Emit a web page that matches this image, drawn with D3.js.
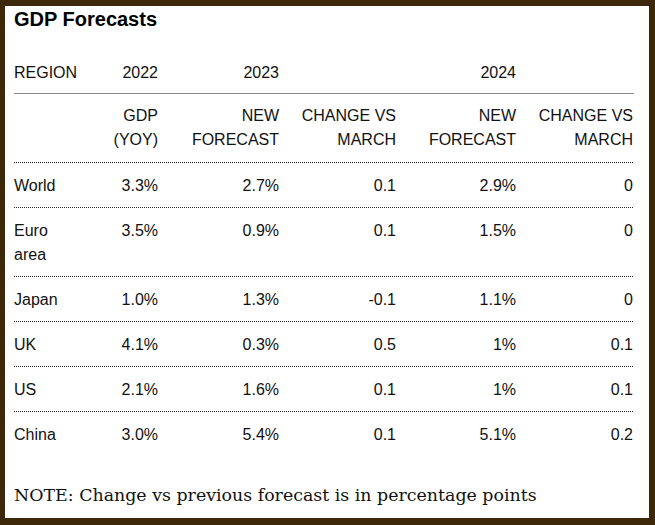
<!DOCTYPE html>
<html>
<head>
<meta charset="utf-8">
<script src="https://cdn.jsdelivr.net/npm/d3@7.9.0/dist/d3.min.js"></script>
<style>
  html, body { margin: 0; padding: 0; background: #3c2809; }
  svg { display: block; }
  .cell { font-family: "Liberation Sans", Arial, sans-serif; font-size: 16px; fill: #111; }
</style>
</head>
<body>
<div id="chart"></div>
<script>
const title = 'GDP Forecasts';
const note = 'NOTE: Change vs previous forecast is in percentage points';

const columns = ['region', 'gdp2022', 'forecast2023', 'change2023', 'forecast2024', 'change2024'];
const yearLabels = ['REGION', '2022', '2023', '', '2024', ''];
const subLabels = [[], ['GDP', '(YOY)'], ['NEW', 'FORECAST'], ['CHANGE VS', 'MARCH'], ['NEW', 'FORECAST'], ['CHANGE VS', 'MARCH']];

const regions = [['World'], ['Euro', 'area'], ['Japan'], ['UK'], ['US'], ['China']];
const gdp2022 = [3.3, 3.5, 1.0, 4.1, 2.1, 3.0];
const forecast2023 = [2.7, 0.9, 1.3, 0.3, 1.6, 5.4];
const change2023 = [0.1, 0.1, -0.1, 0.5, 0.1, 0.1];
const forecast2024 = [2.9, 1.5, 1.1, 1, 1, 5.1];
const change2024 = [0, 0, 0, 0.1, 0.1, 0.2];

const width = 655, height = 525;
const left = 14, right = 634;
const lineH = 24;

const fmt = {
  region: d => d,
  gdp2022: d => [d.toFixed(1) + '%'],
  forecast2023: d => [d.toFixed(1) + '%'],
  change2023: d => [String(d)],
  forecast2024: d => [String(d) + '%'],
  change2024: d => [String(d)]
};

const rows = regions.map((r, i) => ({
  region: r,
  gdp2022: gdp2022[i],
  forecast2023: forecast2023[i],
  change2023: change2023[i],
  forecast2024: forecast2024[i],
  change2024: change2024[i]
}));

// right edge of every column (region is left aligned)
const colX = d3.scaleOrdinal()
  .domain(columns)
  .range([left, 158, 279, 396, 516, 633]);
const anchor = c => c === 'region' ? 'start' : 'end';

const svg = d3.select('#chart').append('svg')
  .attr('width', width)
  .attr('height', height);

svg.append('rect')
  .attr('x', 5).attr('y', 6)
  .attr('width', 644).attr('height', 512)
  .attr('fill', '#fff');

svg.append('text')
  .attr('x', left).attr('y', 26)
  .attr('font-family', '"Liberation Sans", Arial, sans-serif')
  .attr('font-size', 20)
  .attr('font-weight', 'bold')
  .attr('fill', '#000')
  .text(title);

// year header
svg.append('g').selectAll('text')
  .data(columns)
  .join('text')
  .attr('class', 'cell')
  .attr('x', c => colX(c))
  .attr('y', 78)
  .attr('text-anchor', anchor)
  .text((c, i) => yearLabels[i]);

svg.append('line')
  .attr('x1', left).attr('x2', right)
  .attr('y1', 93.5).attr('y2', 93.5)
  .attr('stroke', '#8a8a8a')
  .attr('stroke-width', 1.2);

// sub header
const sub = svg.append('g').selectAll('text')
  .data(columns)
  .join('text')
  .attr('class', 'cell')
  .attr('text-anchor', anchor);
sub.selectAll('tspan')
  .data((c, i) => subLabels[i].map(t => ({ c, t })))
  .join('tspan')
  .attr('x', d => colX(d.c))
  .attr('y', (d, j) => 121 + j * lineH)
  .text(d => d.t);

// body rows, height depends on wrapped lines
let y = 162;
rows.forEach(r => {
  const n = d3.max(columns, c => fmt[c](r[c]).length);
  r.top = y;
  r.height = 21 + n * lineH;
  y += r.height;
});

const dotted = (g, yy) => g.append('line')
  .attr('x1', left).attr('x2', right)
  .attr('y1', yy + 0.5).attr('y2', yy + 0.5)
  .attr('stroke', '#222')
  .attr('stroke-width', 1)
  .attr('stroke-dasharray', '1,1');

const body = svg.append('g');
rows.forEach(r => {
  dotted(body, r.top);
  const cells = body.append('g').selectAll('text')
    .data(columns)
    .join('text')
    .attr('class', 'cell')
    .attr('text-anchor', anchor);
  cells.selectAll('tspan')
    .data(c => fmt[c](r[c]).map(t => ({ c, t })))
    .join('tspan')
    .attr('x', d => colX(d.c))
    .attr('y', (d, j) => r.top + 29 + j * lineH)
    .text(d => d.t);
});

svg.append('text')
  .attr('x', left).attr('y', 501)
  .attr('font-family', '"DejaVu Serif", "Liberation Serif", serif')
  .attr('font-size', 17.4)
  .attr('fill', '#111')
  .text(note);
</script>
</body>
</html>
